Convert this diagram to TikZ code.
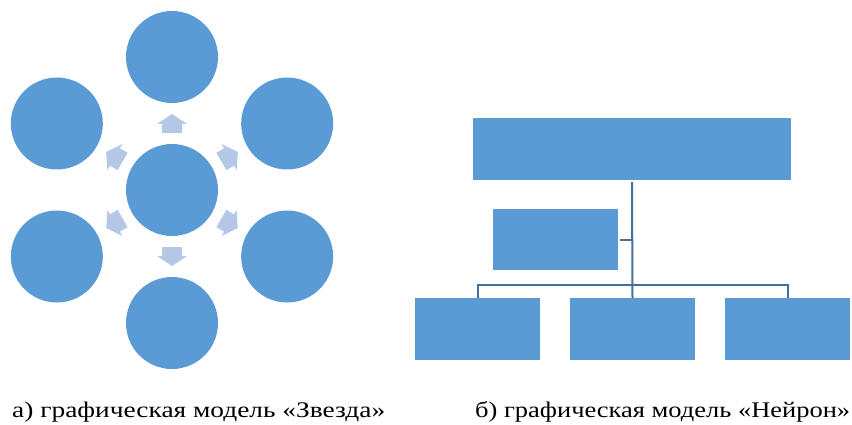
\documentclass[tikz,border=0pt]{standalone}
\usepackage{fontspec}
\usepackage{graphicx}
\setmainfont{Liberation Serif}
\usetikzlibrary{calc}
\definecolor{nodeblue}{HTML}{5B9BD5}
\definecolor{arrowblue}{HTML}{B4C7E7}
\definecolor{lineblue}{HTML}{41719C}
\begin{document}
\begin{tikzpicture}[x=1pt,y=-1pt,
  circ/.style={circle,fill=nodeblue,inner sep=0pt,minimum size=92pt},
  box/.style={rectangle,fill=nodeblue,inner sep=0pt,minimum width=125pt,minimum height=62pt},
  conn/.style={draw=lineblue,line width=2pt},
  blockarrow/.style={fill=arrowblue},
  caption/.style={anchor=base west,inner sep=0pt,font=\fontsize{22.3}{26}\selectfont}]
\useasboundingbox (0,0) rectangle (852,425);
% star model
\node[circ] (c0) at (172,190) {};
\foreach \a/\n in {90/c1,30/c2,-30/c3,-90/c4,-150/c5,150/c6}{
  \node[circ] (\n) at ($(c0)+(\a:133pt)$) {};
}
\foreach \a in {90,30,-30,-90,-150,150}{
  \begin{scope}[shift={(c0)},rotate=-\a]
    \fill[blockarrow] (57,-10) -- (66,-10) -- (66,-15) -- (76,0) -- (66,15) -- (66,10) -- (57,10) -- cycle;
  \end{scope}
}
% neuron model
\node[box,minimum width=318pt] (top) at (632,149) {};
\node[box,minimum height=61pt] (mid) at (555.5,239.5) {};
\node[box] (b1) at (477.5,329) {};
\node[box] (b2) at (632.5,329) {};
\node[box] (b3) at (787.5,329) {};
\coordinate (bus) at (632.5,285);
\coordinate (junc) at (632.5,239.5);
\draw[conn] ([yshift=-2pt]top.south) -- (b2.north);
\draw[conn] (b1.north) |- (bus) -| (b3.north);
\draw[conn] ([xshift=2pt]mid.east) -- (junc);
% captions
\node[caption] (capa) at (12,417) {\resizebox{373pt}{\height}{а) графическая модель «Звезда»}};
\node[caption] (capb) at (475,417) {\resizebox{375pt}{\height}{б) графическая модель «Нейрон»}};
\end{tikzpicture}
\end{document}
